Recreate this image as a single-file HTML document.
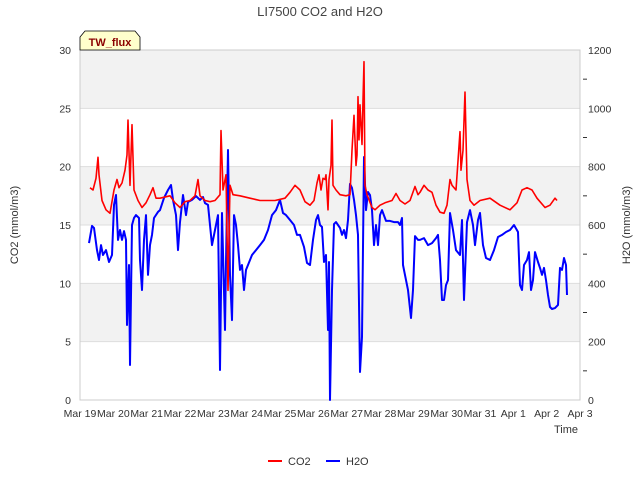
<!DOCTYPE html>
<html><head><meta charset="utf-8"><style>
body{margin:0;background:#fff;font-family:"Liberation Sans",sans-serif}
svg text{font-family:"Liberation Sans",sans-serif}
</style></head><body>
<svg id="chart" width="640" height="480" xmlns="http://www.w3.org/2000/svg">
<text x="320" y="16" text-anchor="middle" font-size="13" fill="#444">LI7500 CO2 and H2O</text>
<g id="bands"></g><g id="grid"></g><g id="axes"></g><g id="series"></g>
<g>
<path d="M80,50 L80,37 L85,31 L135,31 L140,37 L140,50 Z" fill="#ffffcc" stroke="#000" stroke-width="0.8"/>
<text x="110" y="46" text-anchor="middle" font-size="11" font-weight="bold" fill="#8b0000">TW_flux</text>
</g>
<text x="18" y="225" transform="rotate(-90 18 225)" text-anchor="middle" font-size="11" fill="#333">CO2 (mmol/m3)</text>
<text x="630" y="225" transform="rotate(-90 630 225)" text-anchor="middle" font-size="11" fill="#333">H2O (mmol/m3)</text>
<text x="566" y="433" text-anchor="middle" font-size="11" fill="#333">Time</text>
<g><line x1="268" y1="461" x2="282" y2="461" stroke="#f00" stroke-width="2"/><text x="288" y="465" font-size="11" fill="#333">CO2</text></g>
<g><line x1="326" y1="461" x2="340" y2="461" stroke="#00f" stroke-width="2"/><text x="346" y="465" font-size="11" fill="#333">H2O</text></g>
</svg>
<script>
const xLabels=["Mar 19","Mar 20","Mar 21","Mar 22","Mar 23","Mar 24","Mar 25","Mar 26","Mar 27","Mar 28","Mar 29","Mar 30","Mar 31","Apr 1","Apr 2","Apr 3"];
const leftTicks=[0,5,10,15,20,25,30];
const rightTicks=[0,200,400,600,800,1000,1200];
const co2Days=[0.30,0.39,0.48,0.54,0.57,0.66,0.78,0.90,1.02,1.11,1.17,1.26,1.35,1.41,1.44,1.50,1.56,1.62,1.74,1.86,1.98,2.10,2.19,2.28,2.40,2.70,2.85,3.00,3.15,3.30,3.45,3.54,3.60,3.75,3.90,4.05,4.20,4.23,4.29,4.38,4.44,4.50,4.59,4.80,5.10,5.40,5.55,5.85,6.15,6.30,6.45,6.60,6.75,6.90,7.02,7.11,7.17,7.23,7.29,7.35,7.38,7.44,7.47,7.53,7.56,7.59,7.68,7.80,7.98,8.10,8.16,8.22,8.28,8.31,8.34,8.37,8.40,8.46,8.49,8.52,8.55,8.61,8.76,8.85,9.00,9.15,9.36,9.48,9.60,9.75,9.90,10.05,10.14,10.20,10.32,10.44,10.56,10.68,10.80,10.92,11.01,11.10,11.16,11.28,11.40,11.43,11.49,11.55,11.61,11.70,11.82,12.00,12.30,12.60,12.90,13.11,13.26,13.41,13.56,13.71,13.95,14.10,14.25,14.31];
const co2Values=[18.2,18.0,19.0,20.8,19.3,17.1,16.3,16.0,18.0,18.9,18.2,18.6,19.7,21.0,24.0,18.4,23.6,18.0,17.1,16.5,16.9,17.6,18.2,17.3,17.3,17.5,16.9,16.5,17.0,17.1,17.5,18.9,17.5,17.1,17.0,17.1,17.6,23.1,18.0,19.3,9.4,18.4,17.6,17.5,17.3,17.1,17.1,17.1,17.3,17.8,18.4,18.0,17.0,16.7,17.1,18.6,19.3,18.0,19.0,18.9,19.3,16.3,18.9,20.1,24.0,18.4,18.0,17.6,17.5,17.6,21.4,24.4,20.1,21.0,26.0,22.3,25.3,21.9,25.7,29.0,18.4,17.6,16.5,16.3,16.7,16.9,17.1,17.7,17.1,16.8,17.1,18.3,17.6,17.8,18.4,18.0,17.8,16.7,16.1,16.0,16.7,18.9,18.4,18.0,23.0,19.7,21.4,26.4,18.9,17.1,16.7,17.1,17.3,16.7,16.3,16.9,18.0,18.2,18.0,17.3,16.5,16.7,17.3,17.1];
const h2oDays=[0.27,0.36,0.42,0.51,0.57,0.63,0.69,0.78,0.87,0.96,1.02,1.08,1.14,1.20,1.26,1.32,1.38,1.41,1.47,1.50,1.56,1.62,1.68,1.77,1.80,1.86,1.92,1.98,2.04,2.10,2.16,2.22,2.34,2.40,2.52,2.64,2.73,2.79,2.88,2.94,3.00,3.09,3.18,3.24,3.36,3.48,3.60,3.69,3.75,3.84,3.96,4.05,4.14,4.20,4.26,4.35,4.38,4.44,4.50,4.56,4.62,4.68,4.74,4.80,4.86,4.92,4.98,5.04,5.16,5.28,5.40,5.52,5.64,5.76,5.88,6.00,6.09,6.18,6.30,6.42,6.51,6.60,6.72,6.81,6.90,6.99,7.08,7.14,7.20,7.26,7.32,7.38,7.44,7.47,7.50,7.56,7.62,7.68,7.74,7.80,7.86,7.92,7.98,8.04,8.10,8.16,8.22,8.28,8.34,8.40,8.46,8.52,8.58,8.64,8.70,8.76,8.82,8.88,8.94,9.00,9.06,9.18,9.30,9.42,9.54,9.60,9.66,9.69,9.78,9.84,9.93,9.99,10.05,10.14,10.20,10.32,10.44,10.56,10.68,10.74,10.80,10.86,10.92,10.98,11.04,11.10,11.19,11.28,11.40,11.46,11.52,11.61,11.70,11.79,11.85,11.94,12.00,12.09,12.18,12.30,12.42,12.54,12.66,12.78,12.90,13.02,13.14,13.20,13.26,13.32,13.41,13.47,13.53,13.59,13.65,13.74,13.80,13.86,13.92,13.98,14.04,14.10,14.16,14.25,14.34,14.40,14.46,14.52,14.58,14.61];
const h2oValues=[538,597,590,514,480,531,497,514,473,497,669,703,549,583,549,579,549,257,463,120,600,624,634,624,480,377,549,634,429,531,566,624,645,651,693,720,737,686,634,514,610,703,634,679,686,699,686,696,675,669,531,583,634,103,641,240,473,857,429,274,634,600,531,446,463,377,446,463,497,514,531,549,583,634,651,686,641,634,617,600,566,566,525,470,463,549,617,634,600,593,473,497,240,473,0,377,603,610,600,590,566,583,555,617,741,727,686,634,566,96,216,833,651,713,703,651,531,600,531,634,651,614,614,610,610,600,624,463,411,377,281,377,562,549,549,555,531,538,555,566,480,343,343,394,411,641,583,514,497,617,343,610,651,600,531,617,641,531,487,480,514,559,566,576,583,600,576,394,377,463,480,507,377,411,507,473,453,429,453,411,360,319,312,315,326,453,446,487,463,360];

const NS="http://www.w3.org/2000/svg";
const X0=80,X1=580,Y0=400,Y1=50;
function xs(d){return X0+(X1-X0)*d/15;}
function yl(v){return Y0-(Y0-Y1)*v/30;}
function yr(v){return Y0-(Y0-Y1)*v/1200;}
function mk(tag,attrs,parent){const e=document.createElementNS(NS,tag);for(const k in attrs)e.setAttribute(k,attrs[k]);parent.appendChild(e);return e;}
const bands=document.getElementById('bands'),grid=document.getElementById('grid'),axes=document.getElementById('axes'),series=document.getElementById('series');
mk('rect',{x:X0,y:Y1,width:X1-X0,height:Y0-Y1,fill:'#fff'},bands);
for(let i=0;i<leftTicks.length-1;i++){
  if(i%2===1){const b=mk('rect',{x:X0,y:yl(leftTicks[i+1]),width:X1-X0,height:yl(leftTicks[i])-yl(leftTicks[i+1]),fill:'#f2f2f2'},bands);
  
  }
}
leftTicks.forEach(v=>{
  const y=yl(v);
  const g=mk('line',{x1:X0,x2:X1,y1:y,y2:y,stroke:'#ddd','stroke-width':1},grid);
  
  
  const t=mk('text',{x:X0-9,y:y+4,'text-anchor':'end','font-size':10.5,fill:'#333'},axes);
  t.textContent=v;
  
  
});
rightTicks.forEach(v=>{
  const y=yr(v);
  const t=mk('text',{x:X1+8,y:y+4,'font-size':10.5,fill:'#333'},axes);
  t.textContent=v;
  
  
});
for(let v=100;v<1200;v+=200){mk('line',{x1:X1+3,x2:X1+7,y1:yr(v),y2:yr(v),stroke:'#333'},axes);}
mk('rect',{x:X0,y:Y1,width:X1-X0,height:Y0-Y1,fill:'none',stroke:'#ccc'},axes);
xLabels.forEach((l,i)=>{
  const t=mk('text',{x:xs(i),y:Y0+17,'text-anchor':'middle','font-size':10.5,fill:'#333'},axes);
  t.textContent=l;
  
  
});
const h=mk('path',{d:h2oDays.map((d,i)=>(i?'L':'M')+xs(d).toFixed(1)+','+yr(h2oValues[i]).toFixed(1)).join(''),fill:'none',stroke:'#00f','stroke-width':2,'stroke-linejoin':'round'},series);


const c=mk('path',{d:co2Days.map((d,i)=>(i?'L':'M')+xs(d).toFixed(1)+','+yl(co2Values[i]).toFixed(1)).join(''),fill:'none',stroke:'#f00','stroke-width':1.6,'stroke-linejoin':'round'},series);


</script>
</body></html>
